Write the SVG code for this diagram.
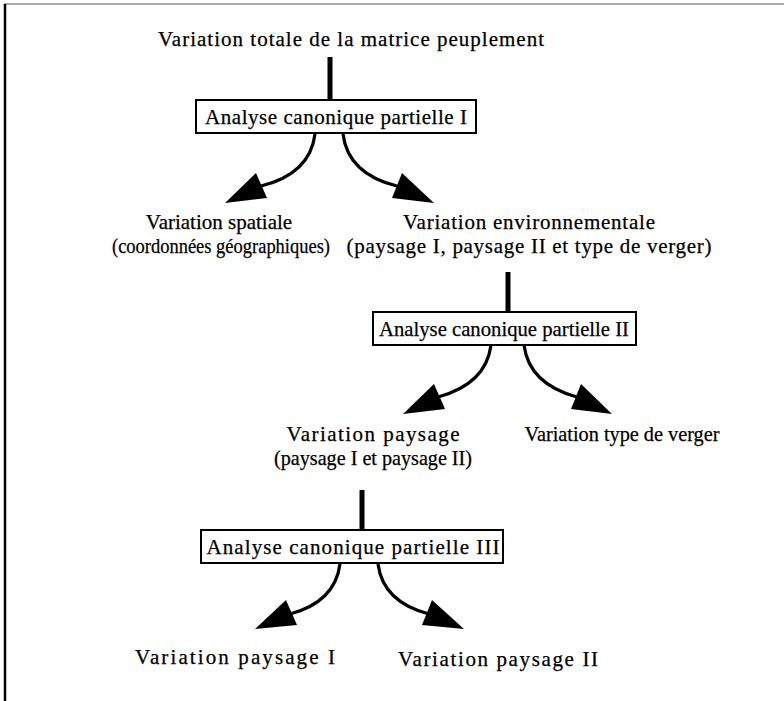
<svg xmlns="http://www.w3.org/2000/svg" width="784" height="701" viewBox="0 0 784 701">
  <style>
    text { font-family: "Liberation Serif", "Times New Roman", serif; font-size: 21px; fill: #000; text-anchor: middle; stroke: #000; stroke-width: 0.25; }
    .box { fill: #fff; stroke: #000; stroke-width: 2; }
    .stem { stroke: #000; stroke-width: 5; fill: none; }
    .curve { stroke: #000; stroke-width: 3.2; fill: none; }
    .head { fill: #000; }
  </style>
  <rect width="784" height="701" fill="#fff"/>
  <!-- frame -->
  <line x1="4" y1="4" x2="784" y2="4" stroke="#555" stroke-width="1"/>
  <line x1="5" y1="4" x2="5" y2="701" stroke="#000" stroke-width="2.5"/>

  <g id="connectors">
    <!-- stems into each analysis box -->
    <line class="stem" x1="330" y1="57" x2="330" y2="100"/>
    <line class="stem" x1="508" y1="272" x2="508" y2="312"/>
    <line class="stem" x1="362" y1="490" x2="362" y2="530"/>
    <!-- analysis I -->
    <path class="curve" d="M315,134 Q310,174 261,186"/>
    <polygon class="head" points="225,203 256,173 267,198"/>
    <path class="curve" d="M343,134 Q348,174 397,186"/>
    <polygon class="head" points="434,203 392,198 402,173"/>
    <!-- analysis II -->
    <path class="curve" d="M491,345 Q486,384 438,397"/>
    <polygon class="head" points="403,414 434,384 445,409"/>
    <path class="curve" d="M524,345 Q529,384 577,397"/>
    <polygon class="head" points="612,414 571,409 581,384"/>
    <!-- analysis III -->
    <path class="curve" d="M340,564 Q335,602 290,614"/>
    <polygon class="head" points="255,629 286,600 297,625"/>
    <path class="curve" d="M378,564 Q383,602 429,614"/>
    <polygon class="head" points="464,629 422,625 432,600"/>
  </g>

  <g id="total">
    <text x="351" y="46" textLength="386" lengthAdjust="spacing">Variation totale de la matrice peuplement</text>
  </g>
  <g id="acp1">
    <rect class="box" x="196" y="100" width="280" height="33"/>
    <text x="336" y="124" textLength="262" lengthAdjust="spacing">Analyse canonique partielle I</text>
  </g>
  <g id="spatiale">
    <text x="219" y="229">Variation spatiale</text>
    <text x="221" y="253" font-size="20" textLength="218" lengthAdjust="spacingAndGlyphs">(coordonnées géographiques)</text>
  </g>
  <g id="environnementale">
    <text x="529" y="229" textLength="252" lengthAdjust="spacing">Variation environnementale</text>
    <text x="529" y="253" textLength="365" lengthAdjust="spacing">(paysage I, paysage II et type de verger)</text>
  </g>
  <g id="acp2">
    <rect class="box" x="373" y="312" width="263" height="33"/>
    <text x="504" y="336" textLength="250" lengthAdjust="spacingAndGlyphs">Analyse canonique partielle II</text>
  </g>
  <g id="paysage">
    <text x="373" y="441" textLength="173" lengthAdjust="spacing">Variation paysage</text>
    <text x="373" y="465" textLength="198" lengthAdjust="spacingAndGlyphs">(paysage I et paysage II)</text>
  </g>
  <g id="verger">
    <text x="622" y="441" textLength="195" lengthAdjust="spacingAndGlyphs">Variation type de verger</text>
  </g>
  <g id="acp3">
    <rect class="box" x="201" y="530" width="302" height="33"/>
    <text x="353" y="554" textLength="293" lengthAdjust="spacing">Analyse canonique partielle III</text>
  </g>
  <g id="paysage1">
    <text x="235" y="664" textLength="200" lengthAdjust="spacing">Variation paysage I</text>
  </g>
  <g id="paysage2">
    <text x="498" y="666" textLength="200" lengthAdjust="spacing">Variation paysage II</text>
  </g>
</svg>
